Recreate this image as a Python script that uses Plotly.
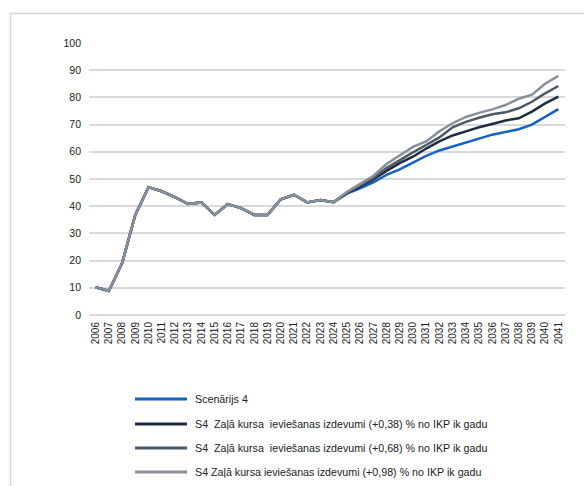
import plotly.graph_objects as go

# Years on the category axis
years = [str(y) for y in range(2006, 2042)]

# Common history 2006-2024
history = [10.2, 8.8, 19.0, 36.8, 47.0, 45.5, 43.3, 40.8, 41.4, 36.8,
           40.8, 39.3, 36.8, 36.8, 42.5, 44.2, 41.4, 42.3, 41.5]

# Projections 2025-2041
proj_s4 = [44.6, 46.6, 48.8, 51.5, 53.5, 56.0, 58.5, 60.5, 62.0, 63.5,
           65.0, 66.3, 67.3, 68.3, 70.0, 73.0, 75.7]
proj_038 = [44.8, 47.2, 49.8, 53.0, 55.8, 58.2, 61.2, 63.8, 66.0, 67.5,
            69.0, 70.2, 71.5, 72.3, 74.8, 77.8, 80.3]
proj_068 = [45.0, 47.6, 50.4, 54.0, 57.0, 59.8, 62.5, 65.3, 69.0, 71.0,
            72.5, 73.8, 74.5, 76.0, 78.4, 81.5, 84.2]
proj_098 = [45.2, 48.2, 51.1, 55.5, 58.8, 61.8, 63.8, 67.5, 70.5, 72.8,
            74.3, 75.6, 77.2, 79.5, 81.0, 85.0, 87.9]

series_names = [
    "Scenārijs 4",
    "S4  Zaļā kursa  ieviešanas izdevumi (+0,38) % no IKP ik gadu",
    "S4  Zaļā kursa  ieviešanas izdevumi (+0,68) % no IKP ik gadu",
    "S4 Zaļā kursa ieviešanas izdevumi (+0,98) % no IKP ik gadu",
]
series_values = [history + proj_s4, history + proj_038,
                 history + proj_068, history + proj_098]
series_colors = ["#1462c4", "#1f2b43", "#4c5966", "#8a9099"]

W, H = 584, 486
ML, MR, MT, MB = 89, 19, 43, 171
PW, PH = W - ML - MR, H - MT - MB


def px_x(px):
    return (px - ML) / PW


def px_y(py):
    return (H - MB - py) / PH


fig = go.Figure()
for name, vals, col in zip(series_names, series_values, series_colors):
    fig.add_trace(go.Scatter(
        x=years, y=vals, mode="lines", name=name,
        line=dict(color=col, width=2.5), showlegend=False,
    ))

shapes = [
    # light frame around the chart
    dict(type="rect", xref="paper", yref="paper",
         x0=px_x(10.5), x1=px_x(600), y0=px_y(13.5), y1=px_y(500),
         line=dict(color="#d6d6d6", width=1.5), fillcolor="rgba(0,0,0,0)",
         layer="below"),
]
annotations = []
legend_y = [399, 424, 448, 472]
for name, col, ly in zip(series_names, series_colors, legend_y):
    shapes.append(dict(type="line", xref="paper", yref="paper",
                       x0=px_x(135), x1=px_x(187), y0=px_y(ly), y1=px_y(ly),
                       line=dict(color=col, width=3)))
    annotations.append(dict(xref="paper", yref="paper", x=px_x(193), y=px_y(ly),
                            text=name, showarrow=False, xanchor="left",
                            yanchor="middle",
                            font=dict(family="Liberation Sans, Arial", size=10.7,
                                      color="#222222")))

fig.update_layout(
    width=W, height=H,
    margin=dict(l=ML, r=MR, t=MT, b=MB, pad=0),
    paper_bgcolor="white", plot_bgcolor="white",
    showlegend=False,
    shapes=shapes, annotations=annotations,
    font=dict(family="Liberation Sans, Arial", color="#222222"),
    xaxis=dict(type="category", range=[-0.5, len(years) - 0.5],
               showgrid=False, zeroline=False, showline=False, ticks="",
               tickangle=-90, tickfont=dict(size=10), ticklabelstandoff=4),
    yaxis=dict(range=[0, 100], dtick=10, showgrid=True, gridcolor="#d9d9d9",
               gridwidth=1.6, zeroline=True, zerolinecolor="#d9d9d9",
               zerolinewidth=1.6, showline=False, ticks="",
               tickfont=dict(size=10.5), ticklabelstandoff=7),
)

fig.write_html("out.html")
